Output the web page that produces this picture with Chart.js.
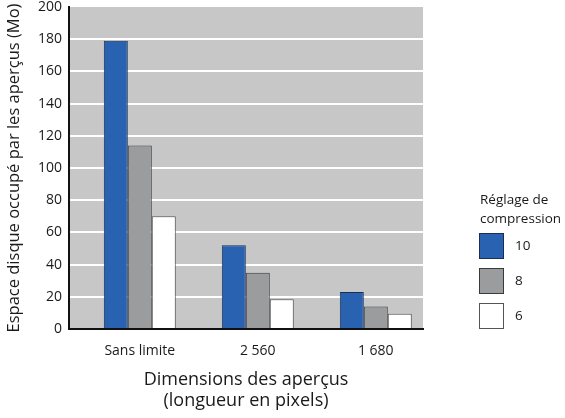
<!DOCTYPE html>
<html lang="fr">
<head>
<meta charset="UTF-8">
<title>Espace disque occupé par les aperçus</title>
<script src="https://cdn.jsdelivr.net/npm/chart.js@4/dist/chart.umd.min.js"></script>
<style>
  html, body { margin: 0; padding: 0; background: #fff; }
  #wrap { width: 565px; height: 418px; }
</style>
</head>
<body>
<div id="wrap"><canvas id="chart" width="565" height="418"></canvas></div>
<script>
  const categories = ['Sans limite', '2 560', '1 680'];
  const compressionLevels = ['10', '8', '6'];
  const size10 = [179, 52, 23];
  const size8 = [114, 35, 14];
  const size6 = [70, 18.5, 9.5];
  const yTicks = [0, 20, 40, 60, 80, 100, 120, 140, 160, 180, 200];

  const fills = ['#2a62b2', '#9b9c9e', '#ffffff'];
  const edges = ['#1b2f55', '#3a3a3a', '#555555'];
  const FONT = '"Open Sans", "Noto Sans", sans-serif';

  const series = [size10, size8, size6];
  const datasets = series.map((vals, k) => ({
    label: compressionLevels[k],
    data: vals.map((v, i) => ({ x: i, y: v })),
    backgroundColor: fills[k],
    borderColor: edges[k],
    borderWidth: 1,
    barPercentage: 1,
    categoryPercentage: 0.61
  }));

  // grey plot background
  const plotBg = {
    id: 'plotBg',
    beforeDraw(chart) {
      const { ctx, chartArea: a } = chart;
      ctx.save();
      ctx.fillStyle = '#c7c7c7';
      ctx.fillRect(a.left, a.top, a.right - a.left, a.bottom - a.top);
      ctx.restore();
    }
  };

  // legend block on the right
  const sideLegend = {
    id: 'sideLegend',
    afterDraw(chart) {
      const ctx = chart.ctx;
      ctx.save();
      ctx.font = '13.5px ' + FONT;
      ctx.fillStyle = '#1a1a1a';
      ctx.textBaseline = 'middle';
      ctx.textAlign = 'left';
      ctx.fillText('Réglage de', 480, 200);
      ctx.fillText('compression', 480, 219);
      chart.data.datasets.forEach((ds, k) => {
        const y = 233 + k * 35;
        ctx.fillStyle = ds.backgroundColor;
        ctx.fillRect(479.5, y + 0.5, 24, 25);
        ctx.strokeStyle = ds.borderColor;
        ctx.lineWidth = 1;
        ctx.strokeRect(479.5, y + 0.5, 24, 25);
        ctx.fillStyle = '#1a1a1a';
        ctx.fillText(ds.label, 515, y + 13);
      });
      ctx.restore();
    }
  };

  new Chart(document.getElementById('chart'), {
    type: 'bar',
    data: { datasets },
    plugins: [plotBg, sideLegend],
    options: {
      responsive: false,
      animation: false,
      layout: { padding: { top: 7, right: 142, left: 0, bottom: 0 } },
      plugins: {
        legend: { display: false },
        tooltip: { enabled: false }
      },
      scales: {
        x: {
          type: 'linear',
          offset: false,
          min: -0.6,
          max: 2.4,
          afterBuildTicks: s => { s.ticks = categories.map((c, i) => ({ value: i })); },
          afterFit: s => { s.height = 89; s.paddingLeft = 0; s.paddingRight = 0; },
          grid: { display: false, drawTicks: false },
          border: { display: true, color: '#111', width: 2 },
          ticks: {
            autoSkip: false,
            maxRotation: 0,
            padding: 14,
            color: '#1a1a1a',
            font: { family: FONT, size: 14 },
            callback: v => categories[v]
          },
          title: {
            display: true,
            text: ['Dimensions des aperçus', '(longueur en pixels)'],
            color: '#1a1a1a',
            font: { family: FONT, size: 18 },
            padding: { top: 0, bottom: 6 }
          }
        },
        y: {
          min: 0,
          max: 200,
          afterBuildTicks: s => { s.ticks = yTicks.map(v => ({ value: v })); },
          afterFit: s => { s.width = 69; s.paddingTop = 0; s.paddingBottom = 0; },
          grid: {
            drawTicks: false,
            lineWidth: 2,
            color: c => (c.tick.value === 0 || c.tick.value === 200) ? 'rgba(0,0,0,0)' : '#ffffff'
          },
          border: { display: true, color: '#111', width: 2 },
          ticks: {
            padding: 7,
            color: '#1a1a1a',
            font: { family: FONT, size: 14 }
          },
          title: {
            display: true,
            text: 'Espace disque occupé par les aperçus (Mo)',
            color: '#1a1a1a',
            font: { family: FONT, size: 16.5 },
            padding: { top: 4, bottom: 0 }
          }
        }
      }
    }
  });
</script>
</body>
</html>
